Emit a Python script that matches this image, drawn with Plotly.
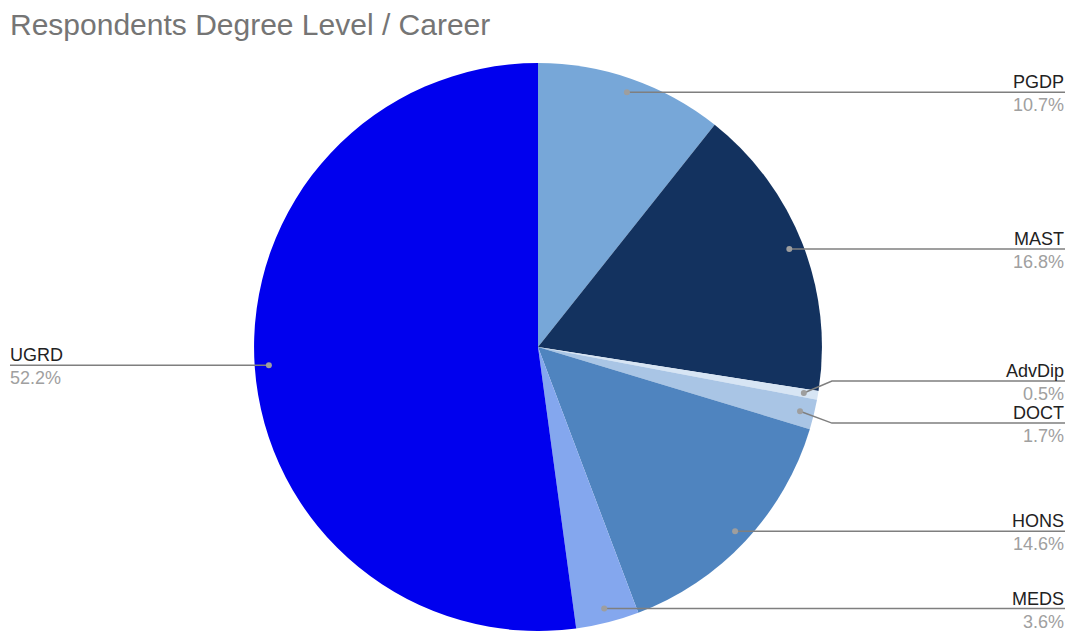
import math
import plotly.graph_objects as go

# ---- data ----
categories = ["PGDP", "MAST", "AdvDip", "DOCT", "HONS", "MEDS", "UGRD"]
shares = [10.7, 16.8, 0.5, 1.7, 14.6, 3.6, 52.2]
colors = ["#77a7d8", "#13325f", "#d7e5f4", "#a9c5e5", "#4f84bf", "#84a7ee", "#0000ee"]
title_text = "Respondents Degree Level / Career"

W, H = 1068, 631
dom_x = [0.2378, 0.7697]
dom_y = [0.0, 0.9]

fig = go.Figure(go.Pie(
    labels=categories, values=shares, sort=False, direction="clockwise",
    rotation=0, marker=dict(colors=colors, line=dict(width=0)),
    textinfo="none", hoverinfo="label+percent", showlegend=False,
    domain=dict(x=dom_x, y=dom_y),
))

# pie geometry in pixels (derived from domain)
cx = (dom_x[0] + dom_x[1]) / 2 * W
cy = (1 - (dom_y[0] + dom_y[1]) / 2) * H
R = min((dom_x[1] - dom_x[0]) * W, (dom_y[1] - dom_y[0]) * H) / 2

def px(x):
    return x / W

def py(y):
    return 1 - y / H

total = sum(shares)
items = []
cum = 0.0
for name, v in zip(categories, shares):
    mid = (cum + v / 2) / total * 2 * math.pi
    cum += v
    dx = cx + 0.95 * R * math.sin(mid)
    dy = cy - 0.95 * R * math.cos(mid)
    side = "r" if math.sin(mid) >= 0 else "l"
    items.append(dict(name=name, v=v, dx=dx, dy=dy, side=side, ly=dy))

# spread overlapping labels on each side
GAP = 42
for side in ("r", "l"):
    grp = sorted([it for it in items if it["side"] == side], key=lambda t: t["dy"])
    for _ in range(20):
        moved = False
        for a, b in zip(grp, grp[1:]):
            if b["ly"] - a["ly"] < GAP:
                m = (a["ly"] + b["ly"]) / 2
                a["ly"] = m - GAP / 2
                b["ly"] = m + GAP / 2
                moved = True
        if not moved:
            break

shapes = []
annotations = []
line_col = "#7f7f7f"
for it in items:
    if it["side"] == "r":
        xend = 1065
        elbow = cx + R + 10
    else:
        xend = 10
        elbow = cx - R - 10
    if abs(it["ly"] - it["dy"]) > 0.5:
        pts = [(it["dx"], it["dy"]), (elbow, it["ly"]), (xend, it["ly"])]
    else:
        pts = [(it["dx"], it["dy"]), (xend, it["ly"])]
    path = "M " + " L ".join(f"{px(x):.5f},{py(y):.5f}" for x, y in pts)
    shapes.append(dict(type="path", path=path, xref="paper", yref="paper",
                       line=dict(color=line_col, width=1.5)))
    r = 3
    shapes.append(dict(type="circle", xref="paper", yref="paper",
                       x0=px(it["dx"] - r), x1=px(it["dx"] + r),
                       y0=py(it["dy"] + r), y1=py(it["dy"] - r),
                       fillcolor="#9e9e9e", line=dict(width=0)))
    if it["side"] == "r":
        ax, xanchor = px(1066), "right"
    else:
        ax, xanchor = px(8), "left"
    annotations.append(dict(x=ax, y=py(it["ly"] + 2), xref="paper", yref="paper",
                            text=it["name"], showarrow=False, xanchor=xanchor,
                            yanchor="bottom", font=dict(size=18, color="#222222")))
    annotations.append(dict(x=ax, y=py(it["ly"] + 1), xref="paper", yref="paper",
                            text=f"{it['v']:.1f}%", showarrow=False, xanchor=xanchor,
                            yanchor="top", font=dict(size=18, color="#a0a0a0")))

fig.update_layout(
    width=W, height=H,
    margin=dict(l=0, r=0, t=0, b=0),
    paper_bgcolor="white", plot_bgcolor="white",
    font=dict(family="Liberation Sans, Arial, sans-serif"),
    title=dict(text=title_text, x=10 / W, xanchor="left", xref="container",
               y=1 - 14 / H, yanchor="top", yref="container",
               font=dict(size=30, color="#757575")),
    shapes=shapes, annotations=annotations,
)

fig.write_html("out.html", config={"displayModeBar": False},
               post_script="document.body.style.margin='0';document.body.style.padding='0';")
